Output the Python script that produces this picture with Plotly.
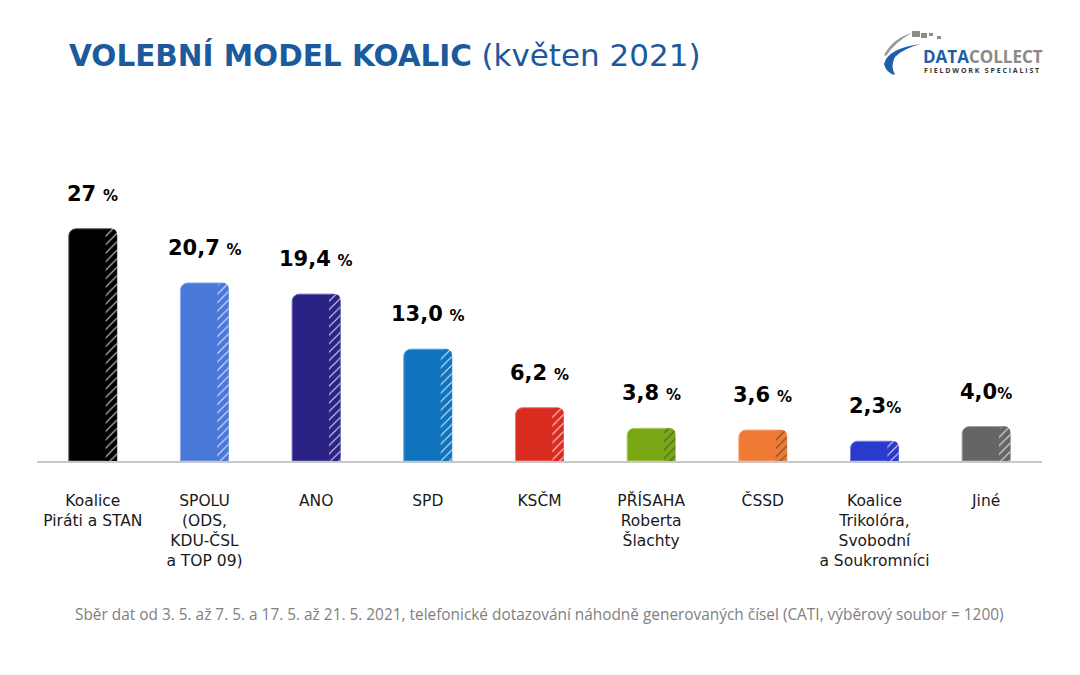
import plotly.graph_objects as go

categories = ["Koalice<br>Piráti a STAN", "SPOLU<br>(ODS,<br>KDU-ČSL<br>a TOP 09)", "ANO", "SPD", "KSČM",
              "PŘÍSAHA<br>Roberta<br>Šlachty", "ČSSD", "Koalice<br>Trikolóra,<br>Svobodní<br>a Soukromníci", "Jiné"]
values = [27, 20.7, 19.4, 13.0, 6.2, 3.8, 3.6, 2.3, 4.0]
value_labels = ["27", "20,7", "19,4", "13,0", "6,2", "3,8", "3,6", "2,3", "4,0"]
pct_sep = [" ", " ", " ", " ", " ", " ", " ", "", ""]
colors = ["#000000", "#4a78d9", "#2a2285", "#0f74bd", "#d92b20", "#7aa815", "#ef7a35", "#2a3acc", "#656565"]
outline = ["#555555", "#8fa9ea", "#6a63b0", "#5aa0d8", "#ec7a72", "#a9ca62", "#f5a97c", "#7482e0", "#9a9a9a"]

x = list(range(len(categories)))

# page offset (body margin) and plot area in page pixels
OFF = 8
W, H = 1080, 675
L, R, T, B = 37 - OFF, 1042 - OFF, 203 - OFF, 461 - OFF

def px(xp):
    return (xp - OFF - L) / (R - L)

def py(yp):
    return (B - (yp - OFF)) / (B - T)

fig = go.Figure()
fig.add_trace(go.Bar(
    x=x, y=values, width=0.43,
    marker=dict(color=colors, line=dict(color=outline, width=1)),
    hoverinfo="skip", showlegend=False,
))
fig.add_trace(go.Bar(
    x=x, y=values, width=0.1, offset=0.115,
    marker=dict(color=colors, line=dict(width=0),
                pattern=dict(shape="/", fgcolor="white", fgopacity=0.85, size=6, solidity=0.18)),
    hoverinfo="skip", showlegend=False,
))

for i, (v, lab, sep) in enumerate(zip(values, value_labels, pct_sep)):
    fig.add_annotation(
        x=i, y=v, xref="x", yref="y", yanchor="middle", yshift=35, showarrow=False,
        text=f"<b>{lab}</b>{sep}<b><span style='font-size:15px'>%</span></b>",
        font=dict(family="DejaVu Sans", size=21, color="#000000"),
    )

# Title
fig.add_annotation(
    x=px(67), y=py(55), xref="paper", yref="paper", xanchor="left", yanchor="middle", showarrow=False,
    text="<b>VOLEBNÍ MODEL KOALIC</b> <span style='font-size:31px'>(květen 2021)</span>",
    font=dict(family="DejaVu Sans", size=29.5, color="#1b5a9c"),
)

# Footer
fig.add_annotation(
    x=px(539), y=py(614), xref="paper", yref="paper", xanchor="center", yanchor="middle", showarrow=False,
    text="Sběr dat od 3. 5. až 7. 5. a 17. 5. až 21. 5. 2021, telefonické dotazování náhodně generovaných čísel (CATI, výběrový soubor = 1200)",
    font=dict(family="Open Sans", size=15.4, color="#808080"),
)

# Logo
fig.add_annotation(
    x=px(921), y=py(56), xref="paper", yref="paper", xanchor="left", yanchor="middle", showarrow=False,
    text="<b><span style='color:#1f5fa8'>DATA</span><span style='color:#8a8a8a'>COLLECT</span></b>",
    font=dict(family="Open Sans", size=17),
)
fig.add_annotation(
    x=px(981), y=py(70), xref="paper", yref="paper", xanchor="center", yanchor="middle", showarrow=False,
    text="<b>F I E L D W O R K   S P E C I A L I S T</b>",
    font=dict(family="Open Sans", size=7, color="#333333"),
)

def P(a, b):
    return f"{px(a):.5f},{py(b):.5f}"

swoosh = (f"M {P(921,44)} Q {P(888,48)} {P(884,64)} Q {P(886,73)} {P(895,75)} "
          f"Q {P(890,66)} {P(895,57)} Q {P(904,48)} {P(921,44)} Z")
fig.add_shape(type="path", path=swoosh, xref="paper", yref="paper",
              fillcolor="#1f5fa8", line=dict(width=0), layer="above")
arc = (f"M {P(884,55)} Q {P(893,38)} {P(912,33)} Q {P(895,42)} {P(886,56)} Z")
fig.add_shape(type="path", path=arc, xref="paper", yref="paper",
              fillcolor="#9a9a9a", line=dict(width=0), layer="above")
for (a, b, c, d) in [(912, 31, 920, 37), (921, 33, 927, 38), (929, 33, 933, 36), (937, 36, 941, 39)]:
    fig.add_shape(type="rect", x0=px(a), x1=px(c), y0=py(b), y1=py(d), xref="paper", yref="paper",
                  fillcolor="#8c8c8c", line=dict(width=0), layer="above")

fig.update_layout(
    width=W, height=H,
    margin=dict(l=L, r=W - R, t=T, b=H - B),
    paper_bgcolor="white", plot_bgcolor="white",
    barmode="overlay", bargap=0.5,
    barcornerradius=7,
    xaxis=dict(
        tickmode="array", tickvals=x, ticktext=categories,
        range=[-0.5, len(categories) - 0.5],
        showgrid=False, zeroline=False, showline=True, linecolor="#c8c8c8", linewidth=2,
        ticks="", ticklabelstandoff=24,
        tickfont=dict(family="DejaVu Sans", size=15.5, color="#1a1a1a"),
        fixedrange=True,
    ),
    yaxis=dict(range=[0, 30], visible=False, fixedrange=True),
    font=dict(family="Open Sans"),
)

fig.write_html("out.html")
